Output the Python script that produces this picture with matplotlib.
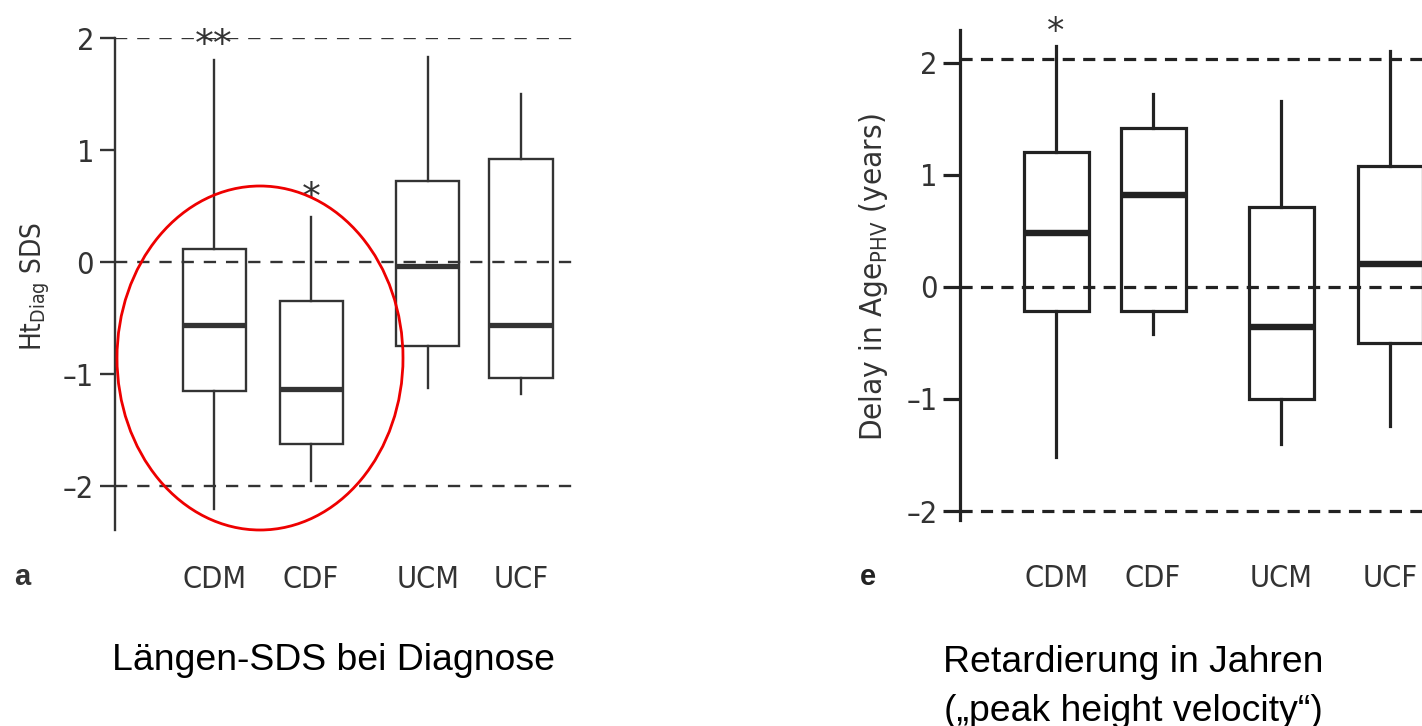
import matplotlib
matplotlib.use("Agg")
import matplotlib.pyplot as plt
from matplotlib.patches import Ellipse

# ---------------- data ----------------
groups = ["CDM", "CDF", "UCM", "UCF"]

# Panel a: Ht_Diag SDS
a_whislo = [-2.20, -1.95, -1.12, -1.18]
a_q1     = [-1.15, -1.62, -0.75, -1.03]
a_med    = [-0.56, -1.13, -0.03, -0.56]
a_q3     = [0.12, -0.35, 0.72, 0.92]
a_whishi = [1.80, 0.40, 1.83, 1.50]
a_sig    = ["**", "*", "", ""]
a_sig_y  = [1.93, 0.56, None, None]
a_refs   = [2, 0, -2]
a_ticks  = [-2, -1, 0, 1, 2]

# Panel e: Delay in Age_PHV (years)
e_whislo = [-1.52, -0.42, -1.40, -1.24]
e_q1     = [-0.22, -0.22, -1.00, -0.50]
e_med    = [0.48, 0.82, -0.36, 0.20]
e_q3     = [1.20, 1.42, 0.71, 1.08]
e_whishi = [2.15, 1.72, 1.66, 2.10]
e_sig    = ["*", "", "", ""]
e_sig_y  = [2.27, None, None, None]
e_refs   = [2.03, 0, -2]
e_ticks  = [-2, -1, 0, 1, 2]

caption_a = "Längen-SDS bei Diagnose"
caption_e = "Retardierung in Jahren\n(„peak height velocity“)"

# ---------------- figure ----------------
W, H = 1422, 726
fig = plt.figure(figsize=(W / 100, H / 100), dpi=100)

NARROW = ["DejaVu Sans"]
ARIAL = ["Liberation Sans", "DejaVu Sans"]
STRETCH = "condensed"


def px_axes(x0, x1, y_top, y_bot):
    return fig.add_axes([x0 / W, 1 - y_bot / H, (x1 - x0) / W, (y_bot - y_top) / H])


def panel(ax, whislo, q1, med, q3, whishi, positions, width, lw, med_lw, color,
          refs, ticks, ylim, xlim, dash, ticklen, tickfs, xpad):
    stats = []
    for i, g in enumerate(groups):
        stats.append(dict(label=g, whislo=whislo[i], q1=q1[i], med=med[i],
                          q3=q3[i], whishi=whishi[i], fliers=[]))
    for r in refs:
        ax.axhline(r, color=color, lw=lw, ls=(0, dash), zorder=1)
    ax.bxp(stats, positions=positions, widths=width, showcaps=False,
           showfliers=False, patch_artist=True,
           boxprops=dict(facecolor="none", edgecolor=color, linewidth=lw),
           whiskerprops=dict(color=color, linewidth=lw),
           medianprops=dict(color=color, linewidth=med_lw, solid_capstyle="butt"))
    ax.set_xlim(*xlim)
    ax.set_ylim(*ylim)
    for s in ["top", "right", "bottom"]:
        ax.spines[s].set_visible(False)
    ax.spines["left"].set_linewidth(lw)
    ax.spines["left"].set_color(color)
    ax.set_yticks(ticks)
    ax.set_yticklabels([("–%d" % -t) if t < 0 else str(t) for t in ticks],
                       family=NARROW, fontsize=tickfs, color="#333333",
                       fontstretch=STRETCH)
    ax.tick_params(axis="y", length=ticklen, width=lw, color=color, pad=4)
    ax.tick_params(axis="x", length=0, pad=xpad)
    ax.set_xticks(positions)
    ax.set_xticklabels(groups, family=NARROW, fontsize=tickfs, color="#333333",
                       fontstretch=STRETCH)
    ax.set_facecolor("none")


# Panel a
ax1 = px_axes(115, 576, 38, 530)
pos_a = [0.99, 1.96, 3.13, 4.06]
panel(ax1, a_whislo, a_q1, a_med, a_q3, a_whishi, pos_a, 0.63, 1.7, 3.8,
      "#333333", a_refs, a_ticks, (-2.39, 2.0), (0, 4.61), (5.2, 4.2), 11, 22, 25)
for p, s, y in zip(pos_a, a_sig, a_sig_y):
    if s:
        ax1.text(p, y, s, ha="center", va="center", fontsize=27,
                 family=NARROW, color="#333333", clip_on=False)
ax1.set_ylabel("Ht$_{\\mathregular{Diag}}$ SDS", family=NARROW, fontsize=20,
               color="#333333", fontstretch=STRETCH)
ax1.yaxis.set_label_coords(-0.137, 0.495)
fig.text(22 / W, 1 - 577 / H, "a", family=ARIAL, fontsize=21, weight="bold",
         color="#333333", ha="center", va="center")

# red ellipse
ell = Ellipse((260 / W, 1 - 358 / H), 286 / W, 344 / H, transform=fig.transFigure,
              fill=False, edgecolor="#ee0000", lw=2.0)
fig.add_artist(ell)

# Panel e
ax2 = px_axes(960, 1422, 30, 520)
pos_e = [0.96, 1.93, 3.21, 4.30]
panel(ax2, e_whislo, e_q1, e_med, e_q3, e_whishi, pos_e, 0.65, 2.3, 4.6,
      "#222222", e_refs, e_ticks, (-2.08, 2.29), (0, 4.62), (3.8, 2.6), 12, 22, 32)
for p, s, y in zip(pos_e, e_sig, e_sig_y):
    if s:
        ax2.text(p, y, s, ha="center", va="center", fontsize=25,
                 family=NARROW, color="#333333", clip_on=False)
ax2.set_ylabel("Delay in Age$_{\\mathregular{PHV}}$ (years)", family=NARROW,
               fontsize=22.5, color="#333333", fontstretch=STRETCH)
ax2.yaxis.set_label_coords(-0.152, 0.495)
fig.text(868 / W, 1 - 577 / H, "e", family=ARIAL, fontsize=21, weight="bold",
         color="#222222", ha="center", va="center")

# captions
fig.text(333 / W, 1 - 661 / H, caption_a, family=ARIAL, fontsize=26.9,
         ha="center", va="center", color="black")
fig.text(1133 / W, 1 - 687 / H, caption_e, family=ARIAL, fontsize=26.9,
         ha="center", va="center", color="black", linespacing=1.49)

fig.savefig("out.png", dpi=100)
